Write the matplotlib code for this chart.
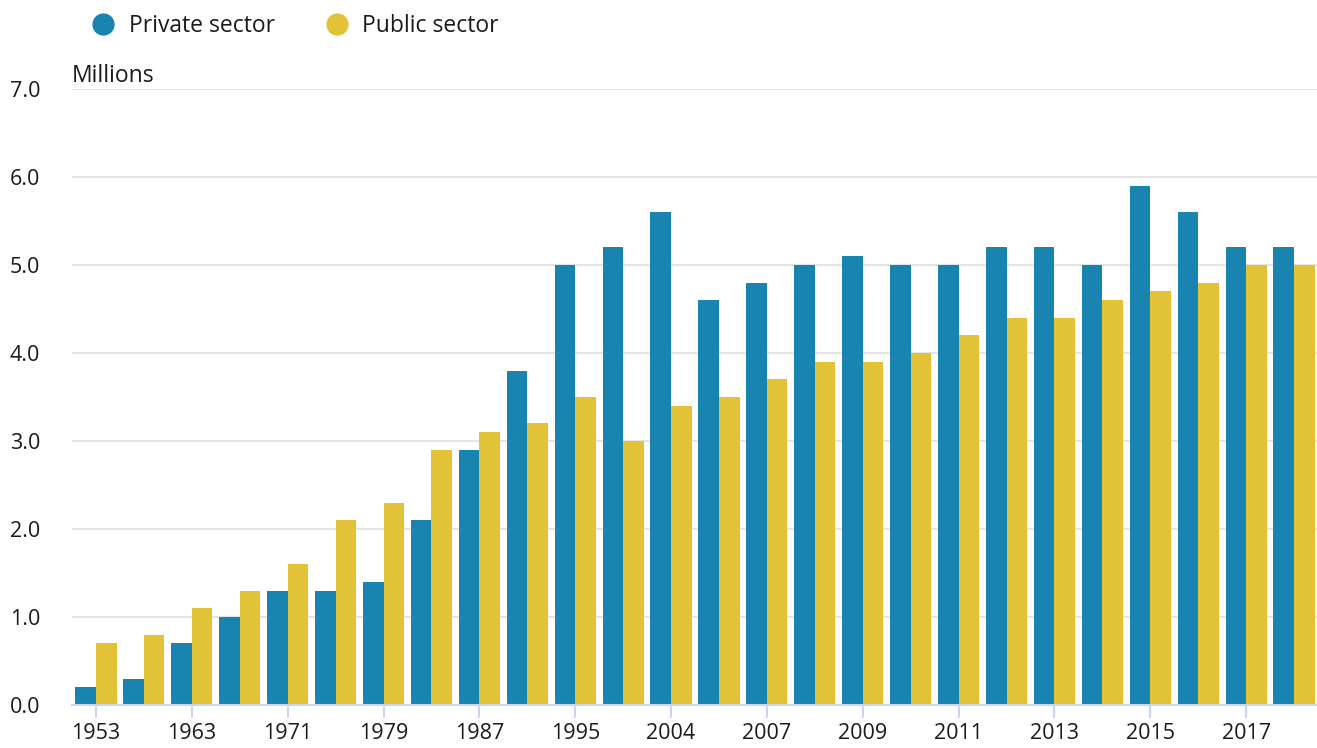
import numpy as np
import matplotlib.pyplot as plt
from matplotlib.lines import Line2D

plt.rcParams['font.family'] = ['Open Sans', 'DejaVu Sans']

# ------------------------------------------------------------
# DATA (millions)
# ------------------------------------------------------------
tick_years = ["1953", "1963", "1971", "1979", "1987", "1995", "2004",
              "2007", "2009", "2011", "2013", "2015", "2017"]

private_sector = [0.2, 0.3, 0.7, 1.0, 1.3, 1.3, 1.4, 2.1, 2.9, 3.8, 5.0, 5.2, 5.6,
                  4.6, 4.8, 5.0, 5.1, 5.0, 5.0, 5.2, 5.2, 5.0, 5.9, 5.6, 5.2, 5.2]
public_sector = [0.7, 0.8, 1.1, 1.3, 1.6, 2.1, 2.3, 2.9, 3.1, 3.2, 3.5, 3.0, 3.4,
                 3.5, 3.7, 3.9, 3.9, 4.0, 4.2, 4.4, 4.4, 4.6, 4.7, 4.8, 5.0, 5.0]

BLUE = "#1984b0"
YELLOW = "#e2c237"

# ------------------------------------------------------------
# PLOT
# ------------------------------------------------------------
fig = plt.figure(figsize=(13.17, 7.48), dpi=100)
ax = fig.add_axes([72 / 1317, 43 / 748, 1246 / 1317, 616 / 748])

x = np.arange(len(private_sector))
w = 0.43
ax.bar(x - w / 2, private_sector, width=w, color=BLUE, zorder=3)
ax.bar(x + w / 2, public_sector, width=w, color=YELLOW, zorder=3)

ax.set_xlim(-0.5, len(x) - 0.5)
ax.set_ylim(0, 7)
ax.set_yticks(np.arange(0, 7.1, 1.0))
ax.set_yticklabels([f"{v:.1f}" for v in np.arange(0, 7.1, 1.0)])
ax.set_xticks(x[::2])
ax.set_xticklabels(tick_years)

ax.grid(axis="y", color="#e6e6e6", lw=1.5, zorder=0)
for s in ["top", "right", "left"]:
    ax.spines[s].set_visible(False)
ax.spines["bottom"].set_color("#ccd6eb")
ax.spines["bottom"].set_linewidth(1.5)
ax.spines["bottom"].set_zorder(4)

ax.tick_params(axis="x", colors="#ccd6eb", length=9, width=1.5,
               labelcolor="#1a1a1a", labelsize=15.5, pad=4)
ax.tick_params(axis="y", length=0, labelcolor="#1a1a1a", labelsize=15.5, pad=23)

fig.text(72 / 1317, 1 - 76 / 748, "Millions", fontsize=16.5, color="#1a1a1a",
         va="center", ha="left")

handles = [Line2D([], [], marker="o", ls="", markersize=15, color=BLUE),
           Line2D([], [], marker="o", ls="", markersize=15, color=YELLOW)]
fig.legend(handles, ["Private sector", "Public sector"], loc="center left",
           bbox_to_anchor=(69 / 1317, 1 - 26 / 748), ncol=2, frameon=False,
           fontsize=16.5, handletextpad=0.5, columnspacing=2.1,
           handlelength=1.2, labelcolor="#1a1a1a")

plt.savefig("out.png", dpi=100)
